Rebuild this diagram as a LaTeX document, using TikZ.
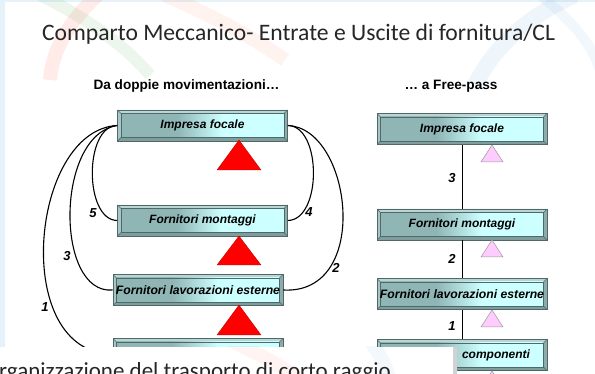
\documentclass[tikz,border=0pt]{standalone}
\usepackage{fontspec}
\setmainfont{Liberation Sans}
\newfontfamily\calib{Carlito}
\usetikzlibrary{calc}
\definecolor{bxdark}{HTML}{8FB5B5}
\definecolor{bxlight}{HTML}{CCFFFF}
\definecolor{bvtop}{HTML}{BCD4D4}
\definecolor{bvleft}{HTML}{A9C4C4}
\definecolor{bvbot}{HTML}{7F9D9D}
\definecolor{bvright}{HTML}{8EACAC}
\definecolor{bxline}{HTML}{4F6868}
\definecolor{pinktri}{HTML}{FFCCFF}
\definecolor{stripblue}{HTML}{E6F2FA}
\definecolor{titlegray}{HTML}{262626}
\pgfdeclarehorizontalshading{boxshade}{100bp}{color(0bp)=(bxdark); color(25bp)=(bxdark); color(42bp)=(bxdark); color(56bp)=(bxlight); color(100bp)=(bxlight)}
\tikzset{
  bbox/.style={minimum width=170pt, minimum height=31pt, inner sep=0pt,
    draw=bxline, line width=0.6pt, fill=bvleft,
    font=\bfseries\itshape\fontsize{12}{14}\selectfont,
    path picture={
      \coordinate (sw) at (path picture bounding box.south west);
      \coordinate (ne) at (path picture bounding box.north east);
      \fill[bvtop] (sw|-ne) -- (ne) -- ($(ne)-(3.5pt,3.5pt)$) -- ($(sw|-ne)+(3.5pt,-3.5pt)$) -- cycle;
      \fill[bvbot] (sw) -- (ne|-sw) -- ($(ne|-sw)+(-3.5pt,3.5pt)$) -- ($(sw)+(3.5pt,3.5pt)$) -- cycle;
      \fill[bvright] (ne|-sw) -- (ne) -- ($(ne)+(-3.5pt,-3.5pt)$) -- ($(ne|-sw)+(-3.5pt,3.5pt)$) -- cycle;
      \shade[shading=boxshade] ($(sw)+(3.5pt,3.5pt)$) rectangle ($(ne)-(3.5pt,3.5pt)$);
      \draw[bxline, line width=0.4pt] ($(sw)+(3.5pt,3.5pt)$) rectangle ($(ne)-(3.5pt,3.5pt)$);
      \draw[bxline, line width=0.4pt] (sw) -- ($(sw)+(3.5pt,3.5pt)$) (ne) -- ($(ne)-(3.5pt,3.5pt)$)
        (sw|-ne) -- ($(sw|-ne)+(3.5pt,-3.5pt)$) (ne|-sw) -- ($(ne|-sw)+(-3.5pt,3.5pt)$);
    }},
  longtext/.style={font=\bfseries\itshape\fontsize{12.2}{14}\selectfont},
  btext/.style={font=\bfseries\itshape\fontsize{12}{14}\selectfont, inner sep=0pt},
  numlab/.style={font=\bfseries\itshape\fontsize{13}{15}\selectfont, inner sep=0pt},
  link/.style={draw=black, line width=1.1pt},
  redtri/.style={fill=red, draw=red!70!black, line width=0.3pt},
  pinkt/.style={fill=pinktri, draw=gray!80, line width=0.5pt},
  heading/.style={font=\bfseries\fontsize{13.6}{16}\selectfont, inner sep=0pt, anchor=base}
}
\begin{document}
\begin{tikzpicture}[x=1pt,y=-1pt]
\useasboundingbox (0,0) rectangle (595,374);
\clip (0,0) rectangle (595,374);
% background
\fill[white] (0,0) rectangle (595,374);
\fill[stripblue] (0,0) rectangle (5,347);
\fill[stripblue] (0,0) rectangle (595,2);
\draw[line width=14pt, red!70!orange, opacity=0.09] (98,-5) .. controls (70,20) and (52,50) .. (50,80);
\draw[line width=12pt, green!50!black, opacity=0.07] (40,-5) .. controls (80,15) and (120,40) .. (150,75);
\draw[line width=14pt, red!60!orange, opacity=0.06] (165,-5) .. controls (210,15) and (250,35) .. (285,60);
\draw[line width=16pt, cyan!60!blue, opacity=0.07] (575,-5) .. controls (530,15) and (495,45) .. (475,85);
\draw[line width=10pt, cyan!60!blue, opacity=0.06] (540,-5) .. controls (570,20) and (590,40) .. (600,70);

% title
\node[font=\calib\fontsize{23.6}{28}\selectfont, text=titlegray, anchor=base, inner sep=0pt] (title) at (298.5,41) {Comparto Meccanico- Entrate e Uscite di fornitura/CL};

% headings
\node[heading] (h1) at (186.5,90) {Da doppie movimentazioni…};
\node[heading] (h2) at (451,90) {… a Free-pass};

% left column
\node[bbox] (L1) at (202.5,125.5) {Impresa focale};
\node[bbox] (L2) at (202.5,220.5) {Fornitori montaggi};
\node[bbox, longtext] (L3) at (198,290) {Fornitori lavorazioni esterne};
\node[bbox] (L4) at (198,354) {};

\fill[redtri] (239,140) -- (261,170) -- (217,170) -- cycle;
\fill[redtri] (239,236) -- (261,265) -- (217,265) -- cycle;
\fill[redtri] (239,305) -- (261,335) -- (217,335) -- cycle;

% left curves
\draw[link] (L1.west) .. controls (84,126) and (84,220) .. (L2.west);
\draw[link] (L1.west) .. controls (55,135) and (55,295) .. (L3.west);
\draw[link] (L1.west) .. controls (30,130) and (10,354) .. (L4.west);
\draw[link] (L1.east) .. controls (322,126) and (322,220) .. (L2.east);
\draw[link] (L1.east) .. controls (352,128) and (372,295) .. (L3.east);

\node[numlab] (n5) at (93,213) {5};
\node[numlab] (n3) at (67,256) {3};
\node[numlab] (n1) at (45,307) {1};
\node[numlab] (n4) at (309,212) {4};
\node[numlab] (n2) at (336,268) {2};

% right column
\node[bbox] (R1) at (462,129) {Impresa focale};
\node[bbox] (R2) at (462,224.5) {Fornitori montaggi};
\node[bbox, longtext] (R3) at (462,294) {Fornitori lavorazioni esterne};
\node[bbox] (R4) at (462,355) {};
\node[btext] (R4t) at (496,355) {componenti};

\draw[link, line width=1pt] (R1) -- (R2);
\draw[link, line width=1pt] (R2) -- (R3);
\draw[link, line width=1pt] (R3) -- (R4);

\node[numlab] (m3) at (452,178) {3};
\node[numlab] (m2) at (452,259) {2};
\node[numlab] (m1) at (452,326) {1};

\filldraw[pinkt] (492,145) -- (503,162) -- (481,162) -- cycle;
\filldraw[pinkt] (492,240) -- (503,257) -- (481,257) -- cycle;
\filldraw[pinkt] (492,310) -- (503,327) -- (481,327) -- cycle;
\filldraw[pinkt] (492,371) -- (503,388) -- (481,388) -- cycle;

% overlapping bottom panel
\fill[gray!35] (453,347) rectangle (457,374);
\fill[white] (0,347) rectangle (453,374);
\begin{scope}
\clip (0,347) rectangle (453,374);
\draw[line width=14pt, red!60!orange, opacity=0.05] (230,340) .. controls (260,355) and (280,365) .. (300,380);
\draw[line width=14pt, cyan!60!blue, opacity=0.05] (370,340) .. controls (380,355) and (385,365) .. (390,380);
\node[font=\calib\fontsize{23}{28}\selectfont, text=titlegray, anchor=base west, inner sep=0pt] (bt) at (-1,378) {rganizzazione del trasporto di corto raggio};
\end{scope}
\end{tikzpicture}
\end{document}
